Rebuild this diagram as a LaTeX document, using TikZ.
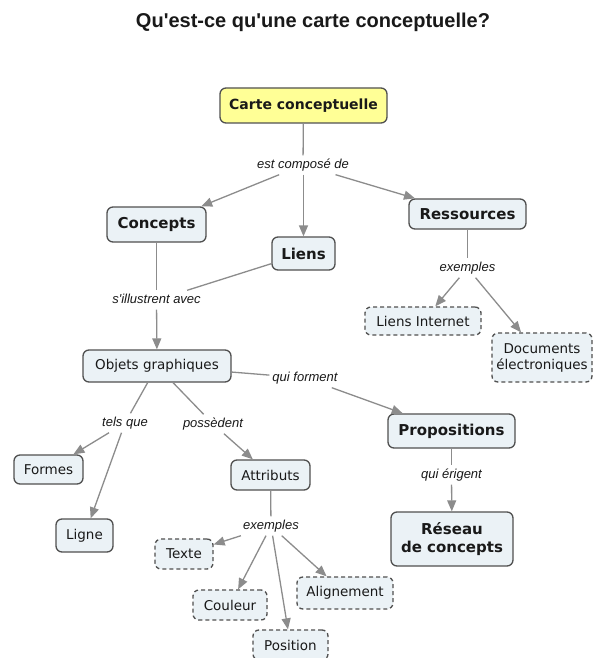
\documentclass[tikz,border=0pt]{standalone}
\usepackage{fontspec}
\setmainfont{DejaVu Sans}
\newfontfamily\labfont{Liberation Sans}
\usetikzlibrary{arrows.meta}
\definecolor{nodefill}{RGB}{235,242,246}
\definecolor{topfill}{RGB}{255,255,150}
\definecolor{border}{RGB}{80,80,80}
\definecolor{conn}{RGB}{140,140,140}
\definecolor{txt}{RGB}{25,25,25}
\tikzset{
  box/.style={draw=border, line width=1.3pt, rounded corners=6pt, fill=nodefill,
    inner sep=0pt, text=txt, align=center, font=\fontsize{13.5}{16}\selectfont},
  boldbox/.style={box, font=\fontsize{15}{18}\selectfont\bfseries},
  dashbox/.style={box, dash pattern=on 4pt off 3pt},
  lab/.style={inner xsep=3pt, inner ysep=3pt, text height=10pt, text depth=3pt,
    text=txt, font=\labfont\itshape\fontsize{13}{15}\selectfont},
  conline/.style={draw=conn, line width=1.3pt},
  arr/.style={conline, -{Triangle[length=11pt,width=9pt]}},
}
\begin{document}
\begin{tikzpicture}[x=1pt,y=-1pt]
\useasboundingbox (0,0) rectangle (595,658);
\clip (0,0) rectangle (595,658);
\fill[white] (0,0) rectangle (595,658);
\node[anchor=base, text=txt, font=\labfont\bfseries\fontsize{20}{24}\selectfont] (title) at (313,28) {Qu'est-ce qu'une carte conceptuelle?};
% concepts
\node[box, fill=topfill, minimum width=167pt, minimum height=35pt, font=\fontsize{14}{17}\selectfont\bfseries] (top) at (303.5,105.5) {Carte conceptuelle};
\node[boldbox, minimum width=99pt, minimum height=35pt] (concepts) at (156.5,224.5) {Concepts};
\node[boldbox, minimum width=63pt, minimum height=33pt] (liens) at (303.5,253.5) {Liens};
\node[boldbox, minimum width=117pt, minimum height=30pt] (ressources) at (467.5,214) {Ressources};
\node[box, minimum width=148pt, minimum height=32pt] (objets) at (157,366) {Objets graphiques};
\node[boldbox, minimum width=127pt, minimum height=34pt] (propositions) at (451.5,431) {Propositions};
\node[boldbox, minimum width=122pt, minimum height=54pt] (reseau) at (452,539) {Réseau\\de concepts};
\node[dashbox, minimum width=116pt, minimum height=28pt] (lienint) at (423,321) {Liens Internet};
\node[dashbox, minimum width=100pt, minimum height=49pt] (docs) at (542,357.5) {Documents\\électroniques};
\node[box, minimum width=69pt, minimum height=29pt] (formes) at (48.5,469.5) {Formes};
\node[box, minimum width=57pt, minimum height=33pt] (ligne) at (84.5,535.5) {Ligne};
\node[box, minimum width=79pt, minimum height=30pt] (attributs) at (270.5,475) {Attributs};
\node[dashbox, minimum width=58pt, minimum height=30pt] (texte) at (184,554) {Texte};
\node[dashbox, minimum width=74pt, minimum height=30pt] (couleur) at (230,605) {Couleur};
\node[dashbox, minimum width=75pt, minimum height=30pt] (position) at (290.5,645) {Position};
\node[dashbox, minimum width=96pt, minimum height=32pt] (alignement) at (345,593) {Alignement};
% labels
\node[lab] (l1) at (303,165) {est composé de};
\node[lab] (l2) at (156.5,300) {s'illustrent avec};
\node[lab] (l3) at (305,378) {qui forment};
\node[lab] (l4) at (467.5,268) {exemples};
\node[lab] (l5) at (125,423) {tels que};
\node[lab] (l6) at (213,424) {possèdent};
\node[lab] (l7) at (271,526) {exemples};
\node[lab] (l8) at (451.5,475) {qui érigent};
% connectors
\draw[conline] (top) -- (l1);
\draw[arr] (l1) -- (concepts);
\draw[arr] (l1.south -| liens.north) -- (liens.north);
\draw[arr] (l1) -- (ressources);
\draw[conline] (concepts) -- (l2);
\draw[conline] (liens) -- (l2);
\draw[arr] (l2) -- (objets);
\draw[conline] (objets) -- (l3);
\draw[arr] (l3) -- (propositions);
\draw[conline] (objets) -- (l5);
\draw[arr] (l5) -- (formes);
\draw[arr] (l5) -- (ligne);
\draw[conline] (objets) -- (l6);
\draw[arr] (l6) -- (attributs);
\draw[conline] (attributs) -- (l7);
\draw[arr] (l7) -- (texte);
\draw[arr] (l7) -- (couleur);
\draw[arr] (l7) -- (position);
\draw[arr] (l7) -- (alignement);
\draw[conline] (ressources) -- (l4);
\draw[arr] (l4) -- (lienint);
\draw[arr] (l4) -- (docs);
\draw[conline] (propositions) -- (l8);
\draw[arr] (l8) -- (reseau);
\end{tikzpicture}
\end{document}
